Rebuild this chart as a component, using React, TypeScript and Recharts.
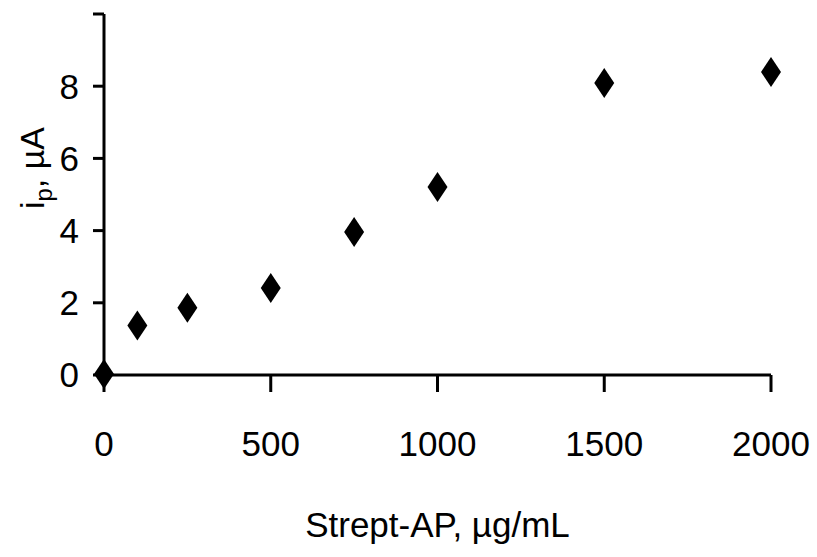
import React from 'react'
import { ScatterChart, Scatter, XAxis, YAxis } from 'recharts'

// Strept-AP concentration (µg/mL) vs peak current (µA)
const concentrations = [0, 100, 250, 500, 750, 1000, 1500, 2000]
const currents = [0.03, 1.37, 1.86, 2.41, 3.96, 5.21, 8.09, 8.39]
const xTicks = [0, 500, 1000, 1500, 2000]
const yTicks = [0, 2, 4, 6, 8, 10]

const points = concentrations.map((c, i) => ({ conc: c, ip: currents[i] }))

const FONT = 'Liberation Sans, Arial, sans-serif'

const Diamond = (props: any) => {
  const { cx, cy } = props
  if (cx == null || cy == null) return null
  const w = 10
  const h = 15
  return (
    <polygon
      points={`${cx},${cy - h} ${cx + w},${cy} ${cx},${cy + h} ${cx - w},${cy}`}
      fill="#000"
    />
  )
}

const YTick = (props: any) => {
  const { x, y, payload } = props
  if (payload.value === 10) return null
  return (
    <text x={x} y={y} dy="0.355em" textAnchor="end" fontSize={35} fontFamily={FONT} fill="#000">
      {payload.value}
    </text>
  )
}

const YLabel = () => (
  <text
    x={44}
    y={168}
    transform="rotate(-90, 44, 168)"
    textAnchor="middle"
    fontSize={34}
    fontFamily={FONT}
    fill="#000"
  >
    i
    <tspan fontSize={24} dy={8}>p</tspan>
    <tspan dy={-8}>, µA</tspan>
  </text>
)

export default function App() {
  return (
    <div style={{ position: 'absolute', left: 0, top: 0, background: '#fff' }}>
      <ScatterChart
        width={817}
        height={557}
        margin={{ top: 14, right: 46, bottom: 122, left: 14 }}
      >
        <XAxis
          type="number"
          dataKey="conc"
          domain={[0, 2000]}
          ticks={xTicks}
          interval={0}
          height={60}
          tickSize={17}
          tickMargin={39}
          axisLine={{ stroke: '#000', strokeWidth: 3 }}
          tickLine={{ stroke: '#000', strokeWidth: 3 }}
          tick={{ fill: '#000', fontSize: 35, fontFamily: FONT }}
          label={{
            value: 'Strept-AP, µg/mL',
            position: 'insideBottom',
            offset: -102,
            fill: '#000',
            fontSize: 35,
            fontFamily: FONT,
          }}
        />
        <YAxis
          type="number"
          dataKey="ip"
          domain={[0, 10]}
          ticks={yTicks}
          interval={0}
          width={90}
          tickSize={11}
          tickMargin={14}
          axisLine={{ stroke: '#000', strokeWidth: 3 }}
          tickLine={{ stroke: '#000', strokeWidth: 3 }}
          tick={<YTick />}
          label={<YLabel />}
        />
        <Scatter data={points} fill="#000" shape={<Diamond />} isAnimationActive={false} />
      </ScatterChart>
    </div>
  )
}
